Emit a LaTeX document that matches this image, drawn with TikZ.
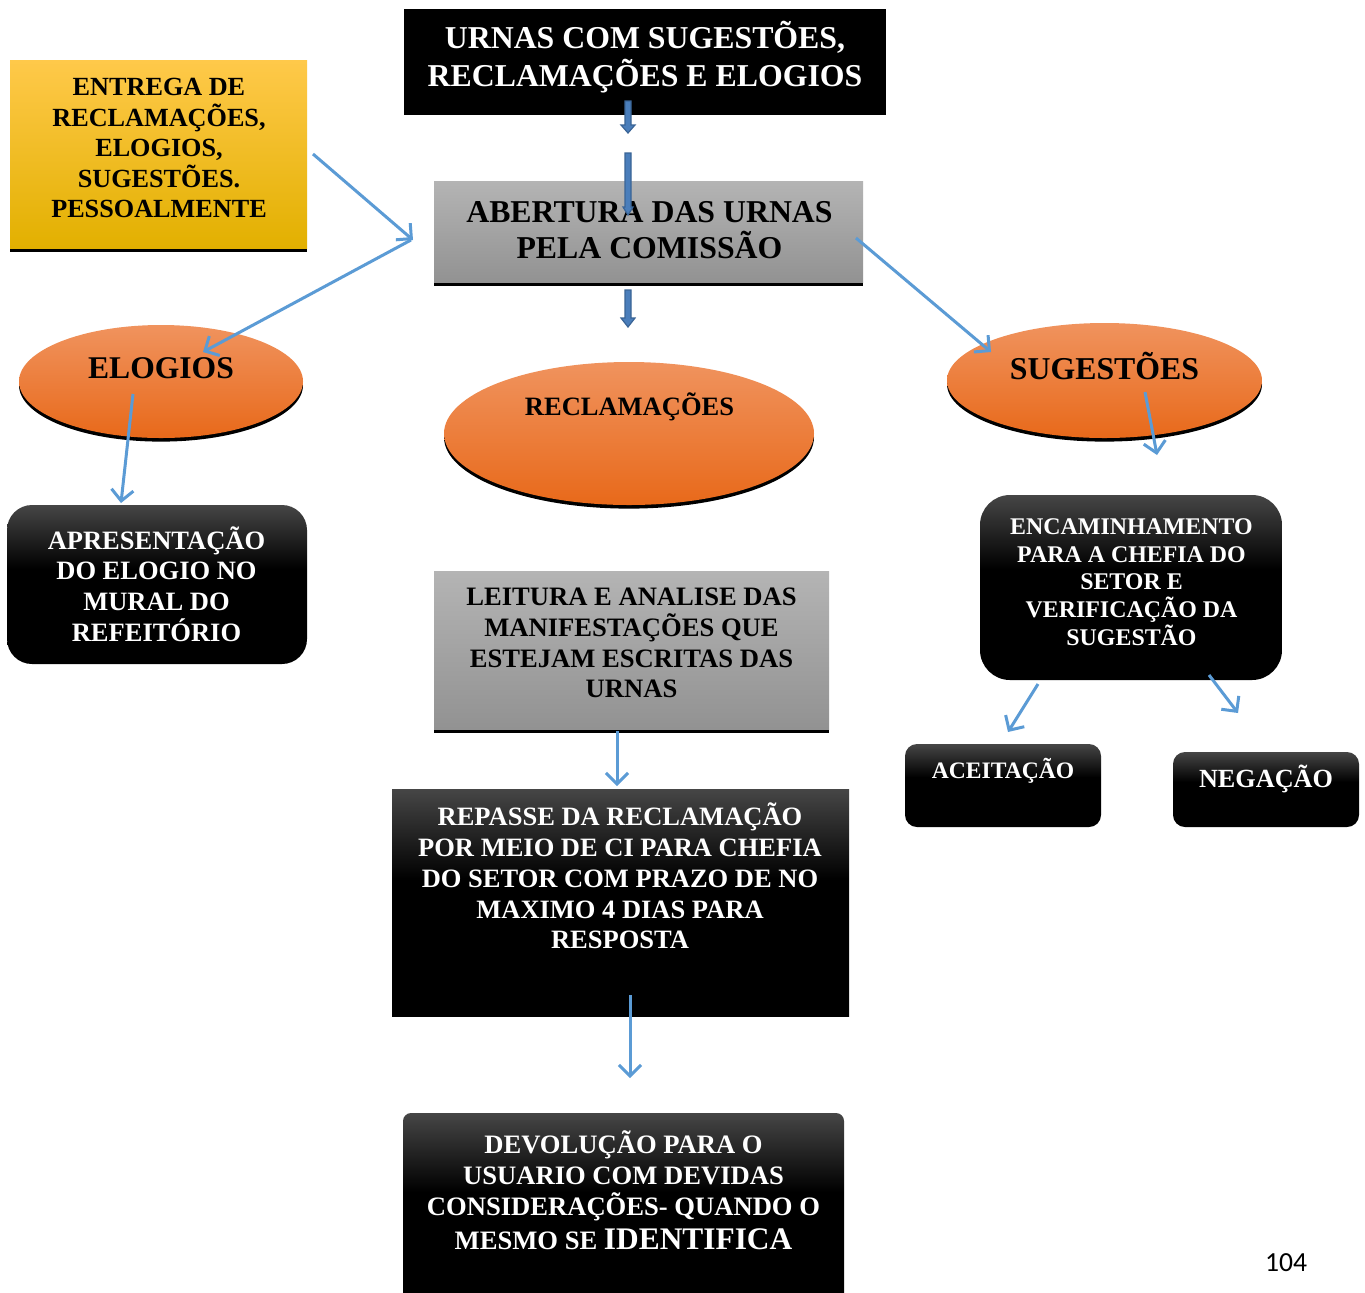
\documentclass[tikz,border=0pt]{standalone}
\usepackage{fontspec}
\setmainfont{Liberation Serif}
\newfontfamily\calib{Carlito}
\usetikzlibrary{arrows.meta,shapes.geometric,shadows}
\definecolor{lineblue}{HTML}{5B9BD5}
\definecolor{blkfill}{HTML}{4A7EBB}
\definecolor{blkedge}{HTML}{3A6496}
\definecolor{orTop}{HTML}{F0935E}
\definecolor{orBot}{HTML}{E8691A}
\definecolor{yeTop}{HTML}{FFC94A}
\definecolor{yeMid}{HTML}{FFC000}
\definecolor{yeBot}{HTML}{E2B000}
\definecolor{grTop}{HTML}{B4B4B4}
\definecolor{grBot}{HTML}{929292}
\definecolor{bkTop}{HTML}{464646}
\pgfdeclareverticalshading{blkshade}{100bp}{color(0bp)=(black); color(25bp)=(black); color(55bp)=(black); color(75bp)=(bkTop); color(100bp)=(bkTop)}
\tikzset{
  shad/.style={drop shadow={shadow xshift=0pt,shadow yshift=-1.8pt,fill=black,opacity=1}},
  blackbox/.style={rectangle,inner sep=0pt,shading=blkshade},
  graybox/.style={rectangle,inner sep=0pt,top color=grTop,bottom color=grBot,shad},
  orell/.style={ellipse,inner sep=0pt,top color=orTop,bottom color=orBot,shad},
  wtxt/.style={text=white,align=center,inner sep=0pt},
  ktxt/.style={text=black,align=center,inner sep=0pt},
  conn/.style={draw=lineblue,line width=1.5pt,-{Straight Barb[length=5.5pt,width=11pt]}},
  blockarr/.style={fill=blkfill,draw=blkedge,line width=0.6pt,line join=miter}
}
\begin{document}
\begin{tikzpicture}[x=0.5pt,y=-0.5pt]
\useasboundingbox[fill=white] (0,0) rectangle (1365,1292);

% boxes
\node[rectangle,inner sep=0pt,fill=black,minimum width=241pt,minimum height=53pt] (urnas) at (645,62) {};
\node[rectangle,inner sep=0pt,top color=yeTop,middle color=yeMid,bottom color=yeBot,shad,minimum width=148.5pt,minimum height=94pt] (entrega) at (158.5,154) {};
\node[graybox,minimum width=214.5pt,minimum height=50.5pt] (abertura) at (648.5,231.5) {};
\node[orell,minimum width=142pt,minimum height=56.5pt] (elogios) at (161,381.5) {};
\node[orell,minimum width=185pt,minimum height=71.5pt] (reclam) at (629,433.5) {};
\node[orell,minimum width=157.5pt,minimum height=57.5pt] (sugest) at (1104.5,380.5) {};
\node[blackbox,rounded corners=12.5pt,minimum width=150pt,minimum height=79.5pt] (apres) at (157,584.5) {};
\node[graybox,minimum width=197.5pt,minimum height=79pt] (leitura) at (631.5,650) {};
\node[blackbox,minimum width=228.5pt,minimum height=113.5pt] (repasse) at (620.5,902.5) {};
\node[blackbox,rounded corners=4pt,minimum width=220.5pt,minimum height=98.5pt] (devol) at (623.5,1211.5) {};
\node[blackbox,rounded corners=15pt,minimum width=151pt,minimum height=92.5pt] (encam) at (1131,587.5) {};
\node[blackbox,rounded corners=6pt,minimum width=98pt,minimum height=41.5pt] (aceit) at (1003,785.5) {};
\node[blackbox,rounded corners=6pt,minimum width=93pt,minimum height=37.5pt] (negac) at (1266,789.5) {};

% texts
\node[wtxt,font=\bfseries\fontsize{15.9}{19}\selectfont] (urnasT) at (645,57) {URNAS COM SUGESTÕES,\\RECLAMAÇÕES E ELOGIOS};
\node[ktxt,font=\bfseries\fontsize{13.1}{15.25}\selectfont] (entregaT) at (159,148) {ENTREGA DE\\RECLAMAÇÕES,\\ELOGIOS,\\SUGESTÕES.\\PESSOALMENTE};
\node[ktxt,font=\bfseries\fontsize{15.9}{18.25}\selectfont] (aberturaT) at (649.5,230) {ABERTURA DAS URNAS\\PELA COMISSÃO};
\node[ktxt,font=\bfseries\fontsize{15.8}{19}\selectfont] (elogiosT) at (161,368) {ELOGIOS};
\node[ktxt,font=\bfseries\fontsize{13.25}{16}\selectfont] (reclamT) at (629.5,407) {RECLAMAÇÕES};
\node[ktxt,font=\bfseries\fontsize{15.9}{19}\selectfont] (sugestT) at (1104.5,366) {SUGESTÕES};
\node[wtxt,font=\bfseries\fontsize{13.25}{15.35}\selectfont] (apresT) at (156.5,584) {APRESENTAÇÃO\\DO ELOGIO NO\\MURAL DO\\REFEITÓRIO};
\node[ktxt,font=\bfseries\fontsize{13.3}{15.35}\selectfont] (leituraT) at (631.5,643) {LEITURA E ANALISE DAS\\MANIFESTAÇÕES QUE\\ESTEJAM ESCRITAS DAS\\URNAS};
\node[wtxt,font=\bfseries\fontsize{13.25}{15.4}\selectfont] (repasseT) at (620,876) {REPASSE DA RECLAMAÇÃO\\POR MEIO DE CI PARA CHEFIA\\DO SETOR COM PRAZO DE NO\\MAXIMO 4 DIAS PARA\\RESPOSTA};
\node[wtxt,font=\bfseries\fontsize{13.3}{15.5}\selectfont] (devolT) at (623.5,1190) {DEVOLUÇÃO PARA O\\USUARIO COM DEVIDAS\\CONSIDERAÇÕES- QUANDO O\\[1.5pt]MESMO SE {\fontsize{15.7}{18}\selectfont IDENTIFICA}};
\node[wtxt,font=\bfseries\fontsize{11.95}{13.85}\selectfont] (encamT) at (1131.5,582) {ENCAMINHAMENTO\\PARA A CHEFIA DO\\SETOR E\\VERIFICAÇÃO DA\\SUGESTÃO};
\node[wtxt,font=\bfseries\fontsize{11.8}{14}\selectfont] (aceitT) at (1003,771) {ACEITAÇÃO};
\node[wtxt,font=\bfseries\fontsize{13.1}{15}\selectfont] (negacT) at (1266,779) {NEGAÇÃO};
\node[ktxt,font=\calib\fontsize{13.8}{16}\selectfont] (pagenum) at (1286,1263) {104};

% block arrows
\draw[blockarr] (625,101) -- (631,101) -- (631,125) -- (635,125) -- (628,133) -- (621,125) -- (625,125) -- cycle;
\draw[blockarr] (625,153) -- (631,153) -- (631,207) -- (633,207) -- (628,215) -- (623,207) -- (625,207) -- cycle;
\draw[blockarr] (625,290) -- (631,290) -- (631,318) -- (635,318) -- (628,327) -- (621,318) -- (625,318) -- cycle;

% connector end points
\coordinate (c1s) at (313,154);
\coordinate (c1e) at (413,240);
\coordinate (c2s) at (411,240);
\coordinate (c2e) at (203,352);
\coordinate (c3s) at (133,394);
\coordinate (c3e) at (121,503);
\coordinate (c4s) at (856,238);
\coordinate (c4e) at (991,352);
\coordinate (c5s) at (1145,392);
\coordinate (c5e) at (1157,455);
\coordinate (c6s) at (1038,684);
\coordinate (c6e) at (1008,732);
\coordinate (c7s) at (1209,675);
\coordinate (c7e) at (1238,713);
\coordinate (c8s) at (617,731);
\coordinate (c8e) at (617,786);
\coordinate (c9s) at (630,995);
\coordinate (c9e) at (630,1078);

\draw[conn] (c1s) -- (c1e);
\draw[conn] (c2s) -- (c2e);
\draw[conn] (c3s) -- (c3e);
\draw[conn] (c4s) -- (c4e);
\draw[conn] (c5s) -- (c5e);
\draw[conn] (c6s) -- (c6e);
\draw[conn] (c7s) -- (c7e);
\draw[conn] (c8s) -- (c8e);
\draw[conn] (c9s) -- (c9e);
\end{tikzpicture}
\end{document}
